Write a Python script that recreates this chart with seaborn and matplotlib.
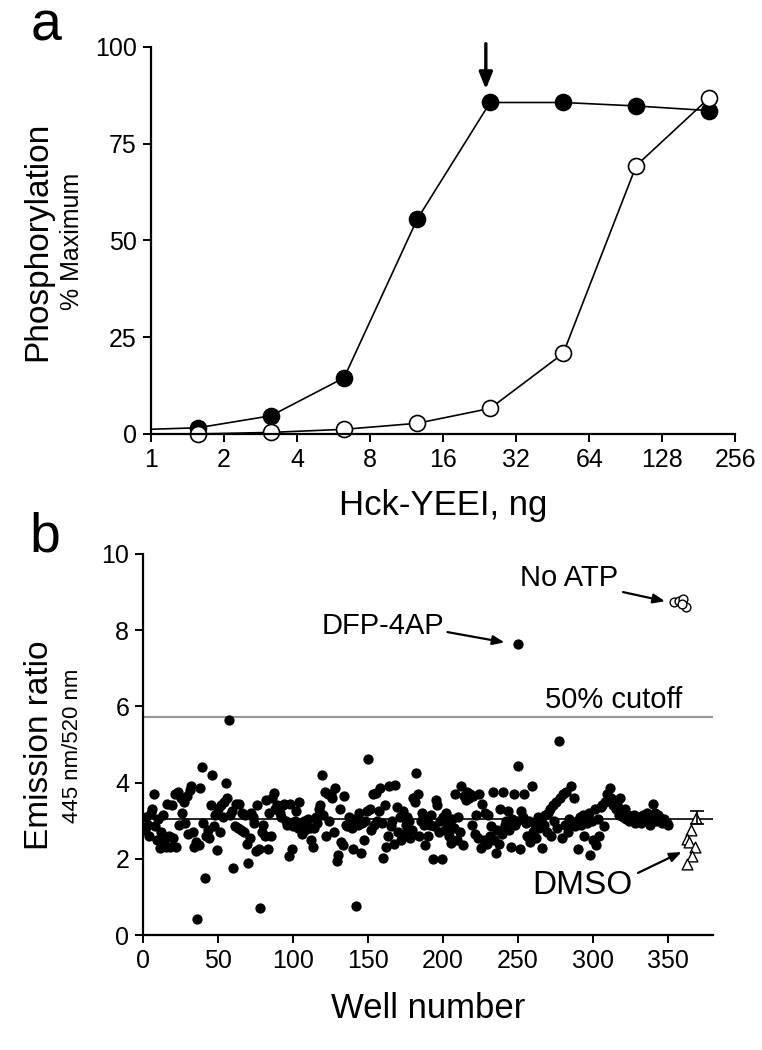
import numpy as np
import pandas as pd
import matplotlib
matplotlib.use("Agg")
import matplotlib.pyplot as plt
import seaborn as sns

# ---- panel a data ----
hck_ng = [0.78125, 1.5625, 3.125, 6.25, 12.5, 25, 50, 100, 200]
phos_filled = [1.0, 1.6, 4.7, 14.5, 55.4, 85.6, 85.6, 84.7, 83.5]
hck_ng_open = [1.5625, 3.125, 6.25, 12.5, 25, 50, 100, 200]
phos_open = [0.0, 0.4, 1.2, 2.75, 6.6, 20.8, 69.3, 86.8]
x_ticks_a = [1, 2, 4, 8, 16, 32, 64, 128, 256]

# ---- panel b data ----
screen_ratio = [
    2.75, 3.1, 2.9, 2.6, 3.2, 3.3, 3.7, 2.85, 2.5, 3.05, 2.28, 2.7, 3.15, 2.5, 2.3, 3.45, 2.6, 2.3, 3.4, 2.55, 3.7, 2.3, 3.75, 2.9, 3.6,
    3.2, 3.5, 2.95, 3.65, 2.65, 3.8, 3.9, 2.7, 2.3, 2.45, 0.42, 2.35, 3.85, 4.4, 2.95, 1.5, 2.6, 2.75, 2.55, 3.4, 4.19, 2.85, 3.15, 2.24, 3.3,
    2.7, 3.4, 3.1, 3.5, 3.98, 3.6, 5.63, 3.15, 3.25, 1.77, 2.85, 3.45, 2.8, 3.45, 2.75, 3.2, 2.7, 3.15, 2.4, 1.88, 2.55, 3.2, 3.1, 2.95, 2.2,
    3.4, 2.25, 0.71, 2.7, 2.9, 2.6, 3.55, 2.25, 3.2, 2.6, 3.6, 3.72, 3.3, 3.4, 3.35, 3.2, 3.1, 3.4, 3.45, 3.0, 2.9, 2.08, 3.45, 2.27, 2.85,
    3.0, 3.25, 2.8, 3.5, 2.9, 2.65, 3.0, 2.75, 2.85, 3.05, 2.8, 2.5, 2.3, 2.8, 3.1, 2.95, 3.3, 3.4, 4.2, 3.15, 3.75, 2.6, 3.7, 3.0, 3.7,
    3.6, 2.7, 3.85, 1.95, 2.1, 3.3, 2.45, 2.35, 3.65, 2.9, 2.85, 3.1, 3.0, 2.8, 2.25, 3.05, 0.75, 2.9, 3.2, 2.14, 2.95, 2.5, 3.0, 3.25, 4.63,
    3.3, 2.75, 3.7, 2.9, 3.72, 3.0, 3.25, 3.85, 2.95, 2.02, 3.4, 2.3, 2.6, 3.9, 2.85, 3.0, 2.4, 3.93, 3.35, 2.7, 3.1, 2.5, 3.25, 2.65, 2.9,
    3.1, 3.0, 2.55, 2.75, 3.6, 3.5, 4.24, 3.7, 2.6, 3.0, 3.2, 2.9, 2.35, 3.05, 2.6, 2.9, 3.15, 2.0, 2.85, 3.55, 3.4, 2.7, 3.0, 2.0, 3.1,
    2.75, 3.2, 2.9, 2.6, 2.42, 3.05, 2.8, 3.7, 2.5, 3.1, 2.7, 3.9, 2.35, 3.65, 3.55, 3.75, 3.6, 3.7, 2.9, 3.65, 2.65, 3.15, 2.55, 3.7, 2.28,
    3.45, 2.5, 3.2, 2.4, 3.15, 2.6, 2.85, 3.75, 2.5, 2.15, 2.75, 2.4, 3.3, 2.65, 3.75, 2.9, 3.0, 3.25, 2.75, 2.3, 3.05, 3.7, 2.9, 3.0, 4.43,
    2.25, 3.25, 3.1, 3.7, 2.95, 2.6, 3.0, 2.45, 3.9, 2.7, 2.9, 2.55, 3.1, 2.8, 3.05, 2.28, 2.9, 3.15, 2.7, 3.2, 3.3, 2.6, 3.4, 3.0, 3.5,
    2.8, 5.08, 3.6, 2.55, 3.7, 2.9, 3.75, 2.7, 3.05, 3.9, 2.95, 3.6, 2.85, 3.0, 2.25, 3.1, 2.9, 3.15, 2.6, 3.1, 2.95, 3.2, 2.1, 3.0, 2.5,
    3.3, 2.35, 3.05, 2.6, 3.35, 3.4, 2.85, 3.5, 3.7, 3.55, 3.85, 3.6, 3.4, 3.5, 3.3, 3.45, 3.15, 3.6, 3.2, 3.1, 3.3, 3.05, 3.15, 3.0, 3.1,
    3.05, 3.15, 2.95, 3.0, 3.1, 3.05, 2.95, 3.15, 3.0, 3.1, 3.2, 3.05, 2.9, 3.1, 3.45, 3.2, 3.0, 3.15, 3.1, 3.0, 2.95, 3.05, 3.0, 2.95, 2.9,
]
well = list(range(1, len(screen_ratio) + 1))
dfp_well, dfp_ratio = 250, 7.63
noatp_well = [354, 357, 360, 362, 359]
noatp_ratio = [8.73, 8.77, 8.82, 8.6, 8.68]
dmso_well = [368.4, 365.1, 362.4, 364.2, 368.0, 366.2, 362.4]
dmso_ratio = [3.07, 2.76, 2.52, 2.44, 2.31, 2.08, 1.86]
dmso_bar_well, dmso_bar_mean, dmso_bar_err = 369, 3.08, 0.17
cutoff = 5.71
mean_line = 3.05

sns.set_style("ticks")
plt.rcParams["font.family"] = ["Liberation Sans", "DejaVu Sans"]
plt.rcParams.update({"text.color": "black", "axes.labelcolor": "black",
                     "xtick.color": "black", "ytick.color": "black",
                     "axes.edgecolor": "black"})

fig = plt.figure(figsize=(7.62, 10.5), dpi=100)

# ---------------- panel a ----------------
ax1 = fig.add_axes([0.198, 0.5867, 0.767, 0.3688])
sns.lineplot(x=hck_ng, y=phos_filled, ax=ax1, color="black", lw=1.2,
             marker="o", markersize=11.5, markerfacecolor="black",
             markeredgecolor="black", markeredgewidth=1.2, clip_on=True)
sns.lineplot(x=hck_ng_open, y=phos_open, ax=ax1, color="black", lw=1.2,
             marker="o", markersize=11.5, markerfacecolor="white",
             markeredgecolor="black", markeredgewidth=1.2, clip_on=False)
ax1.set_xscale("log", base=2)
ax1.set_xlim(1, 256)
ax1.set_ylim(0, 100)
ax1.set_xticks(x_ticks_a)
ax1.set_xticklabels([str(t) for t in x_ticks_a])
ax1.minorticks_off()
ax1.set_yticks([0, 25, 50, 75, 100])
ax1.set_xlabel("Hck-YEEI, ng", fontsize=25, labelpad=12)
ax1.set_ylabel("")
ax1.annotate("", xy=(24, 88.3), xytext=(24, 101.5),
             arrowprops=dict(arrowstyle="-|>,head_width=0.4,head_length=1.0",
                             color="black", lw=2.4), annotation_clip=False)
fig.text(0.05, 0.77, "Phosphorylation", rotation=90, fontsize=24,
         ha="center", va="center")
fig.text(0.094, 0.77, "% Maximum", rotation=90, fontsize=18,
         ha="center", va="center")
fig.text(0.04, 0.975, "a", fontsize=40, ha="left", va="center")

# ---------------- panel b ----------------
ax2 = fig.add_axes([0.1877, 0.1095, 0.748, 0.3629])
ax2.axhline(cutoff, color="#999999", lw=1.6, zorder=1)
ax2.axhline(mean_line, color="black", lw=1.2, zorder=1)
sns.scatterplot(x=well, y=screen_ratio, ax=ax2, color="black", s=55,
                linewidth=0, zorder=3)
sns.scatterplot(x=[dfp_well], y=[dfp_ratio], ax=ax2, color="black", s=55,
                linewidth=0, zorder=3)
sns.scatterplot(x=noatp_well, y=noatp_ratio, ax=ax2, color="white", s=40,
                edgecolor="black", linewidth=1.0, zorder=3)
sns.scatterplot(x=dmso_well, y=dmso_ratio, ax=ax2, color="white", s=60,
                marker="^", edgecolor="black", linewidth=1.0, zorder=3)
ax2.errorbar([dmso_bar_well], [dmso_bar_mean], yerr=[dmso_bar_err],
             fmt="none", ecolor="black", elinewidth=1.2, capsize=5,
             capthick=1.2, zorder=4)
ax2.set_xlim(0, 380)
ax2.set_ylim(0, 10)
ax2.set_xticks([0, 50, 100, 150, 200, 250, 300, 350])
ax2.set_yticks([0, 2, 4, 6, 8, 10])
ax2.set_xlabel("Well number", fontsize=25, labelpad=14)
ax2.set_ylabel("")

arrow_kw = dict(arrowstyle="-|>,head_width=0.28,head_length=0.7",
                color="black", lw=1.6, shrinkA=0, shrinkB=0)
ax2.text(268, 6.16, "50% cutoff", fontsize=21, ha="left", va="center")
ax2.text(119, 8.1, "DFP-4AP", fontsize=21, ha="left", va="center")
ax2.annotate("", xy=(241, 7.68), xytext=(203, 7.95), arrowprops=arrow_kw)
ax2.text(317, 9.37, "No ATP", fontsize=21, ha="right", va="center")
ax2.annotate("", xy=(348, 8.76), xytext=(320, 9.0), arrowprops=arrow_kw)
ax2.text(293, 1.3, "DMSO", fontsize=24, ha="center", va="center")
ax2.annotate("", xy=(359, 2.18), xytext=(330, 1.63), arrowprops=arrow_kw)

fig.text(0.052, 0.29, "Emission ratio", rotation=90, fontsize=24,
         ha="center", va="center")
fig.text(0.095, 0.29, "445 nm/520 nm", rotation=90, fontsize=16,
         ha="center", va="center")
fig.text(0.038, 0.488, "b", fontsize=40, ha="left", va="center")

for ax in (ax1, ax2):
    sns.despine(ax=ax)
    for sp in ("left", "bottom"):
        ax.spines[sp].set_linewidth(1.6)
    ax.tick_params(axis="both", labelsize=18, length=6, width=1.4,
                   direction="out", color="black", pad=4)

fig.savefig("out.png", dpi=100)
